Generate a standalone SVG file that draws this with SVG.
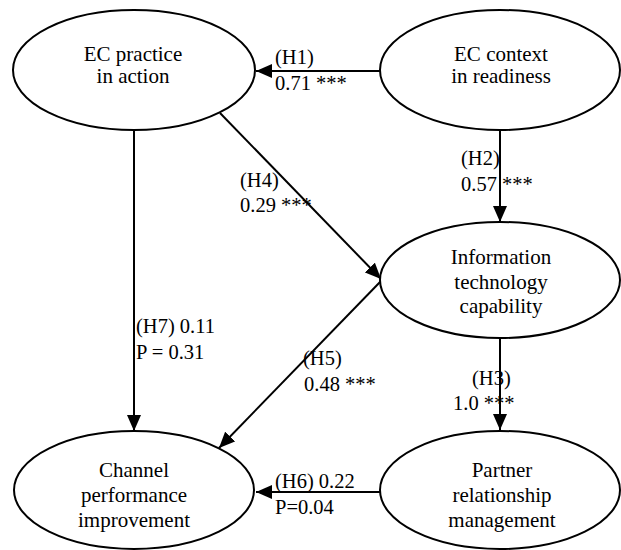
<svg xmlns="http://www.w3.org/2000/svg" width="621" height="550" viewBox="0 0 621 550">
<style>
.node ellipse{fill:#fff;stroke:#000;stroke-width:2}
.node text{font-size:21px;fill:#000;text-anchor:middle}
.lbl{font-size:20.5px;fill:#000}
.edge{stroke:#000;stroke-width:2;fill:none}
</style>
<defs>
<marker id="arr" markerUnits="userSpaceOnUse" markerWidth="16" markerHeight="14" refX="16" refY="7" orient="auto">
<path d="M0,0 L16,7 L0,14 z" fill="#000"/>
</marker>
</defs>
<rect width="621" height="550" fill="#fff"/>
<g font-family="'Liberation Serif', 'Times New Roman', 'DejaVu Serif', serif">
<g id="connectors">
<line class="edge" x1="380" y1="71" x2="256" y2="71" marker-end="url(#arr)"/>
<line class="edge" x1="500" y1="130" x2="500" y2="222" marker-end="url(#arr)"/>
<line class="edge" x1="220" y1="113" x2="381" y2="279" marker-end="url(#arr)"/>
<line class="edge" x1="381" y1="281" x2="219" y2="448" marker-end="url(#arr)"/>
<line class="edge" x1="134" y1="130" x2="134" y2="431" marker-end="url(#arr)"/>
<line class="edge" x1="500" y1="338" x2="500" y2="430" marker-end="url(#arr)"/>
<line class="edge" x1="380" y1="492" x2="256" y2="492" marker-end="url(#arr)"/>
<text class="lbl" x="275" y="64">(H1)</text>
<text class="lbl" x="275" y="90">0.71 ***</text>
<text class="lbl" x="461" y="165">(H2)</text>
<text class="lbl" x="461" y="191">0.57 ***</text>
<text class="lbl" x="240" y="187">(H4)</text>
<text class="lbl" x="240" y="212">0.29 ***</text>
<text class="lbl" x="136" y="333">(H7) 0.11</text>
<text class="lbl" x="136" y="359">P = 0.31</text>
<text class="lbl" x="303" y="365">(H5)</text>
<text class="lbl" x="304" y="391">0.48 ***</text>
<text class="lbl" x="472" y="385">(H3)</text>
<text class="lbl" x="453" y="410">1.0 ***</text>
<text class="lbl" x="275" y="488">(H6) 0.22</text>
<text class="lbl" x="275" y="514">P=0.04</text>
</g>
<g id="ec-practice" class="node">
<ellipse cx="134" cy="70" rx="121" ry="60"/>
<text x="133" y="61">EC practice</text>
<text x="133" y="83">in action</text>
</g>
<g id="ec-context" class="node">
<ellipse cx="500" cy="70" rx="120" ry="60"/>
<text x="501" y="61">EC context</text>
<text x="501" y="83">in readiness</text>
</g>
<g id="it-capability" class="node">
<ellipse cx="500" cy="280" rx="120" ry="58"/>
<text x="501" y="264">Information</text>
<text x="501" y="289">technology</text>
<text x="501" y="313">capability</text>
</g>
<g id="channel-performance" class="node">
<ellipse cx="134" cy="490" rx="120" ry="59"/>
<text x="134" y="477">Channel</text>
<text x="134" y="502">performance</text>
<text x="134" y="527">improvement</text>
</g>
<g id="partner-relationship" class="node">
<ellipse cx="500" cy="490" rx="120" ry="59"/>
<text x="502" y="477">Partner</text>
<text x="502" y="502">relationship</text>
<text x="502" y="527">management</text>
</g>
</g>
</svg>
